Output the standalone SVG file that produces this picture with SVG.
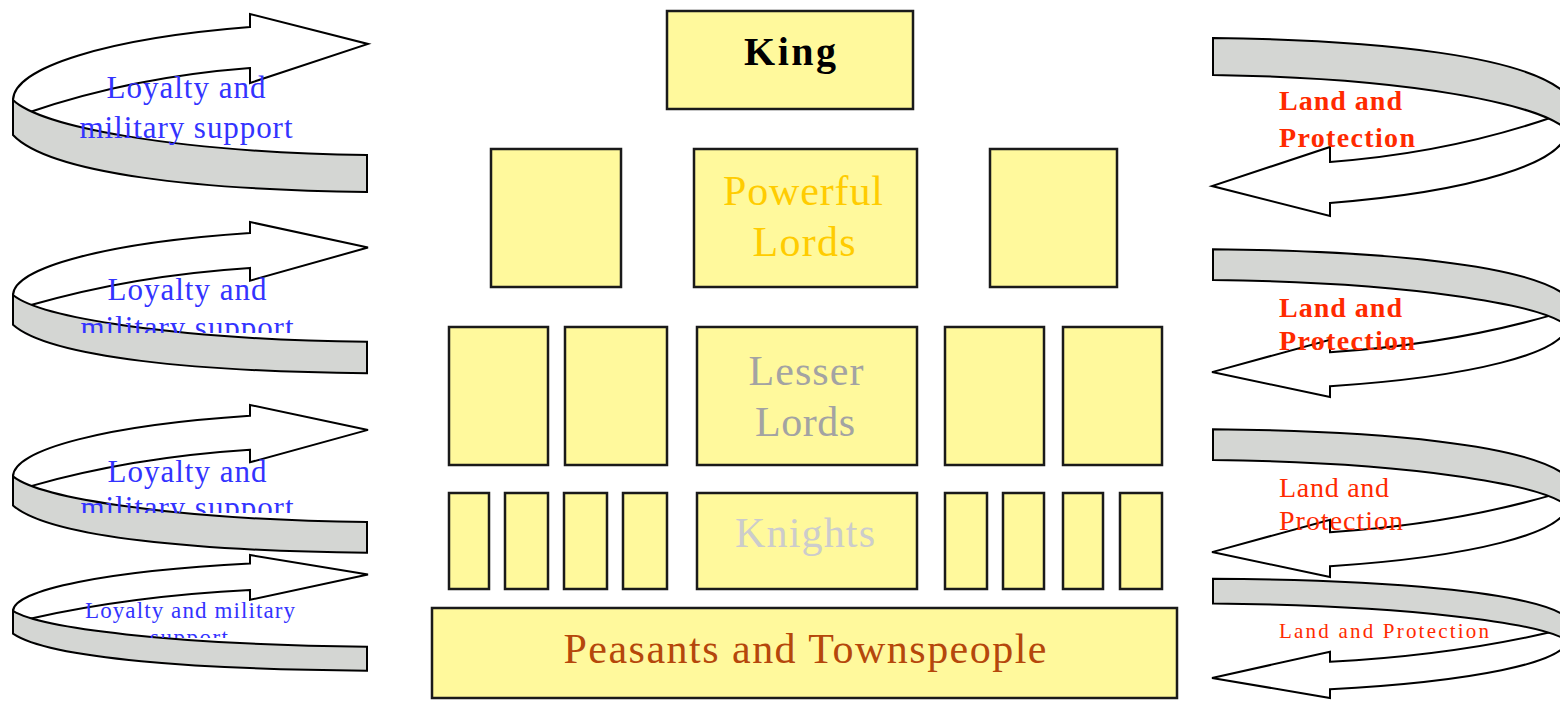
<svg xmlns="http://www.w3.org/2000/svg" xmlns:xlink="http://www.w3.org/1999/xlink" width="1560" height="701" viewBox="0 0 1560 701">
<style>
.box{fill:#FFF99C;stroke:#1a1a1a;stroke-width:2.5}
.aw{fill:#FFFFFF;stroke:#000;stroke-width:2}
.ag{fill:#D4D6D3;stroke:#000;stroke-width:2}
.t{font-family:"Liberation Serif","Times New Roman",serif;text-anchor:middle}
.blue{font-family:"Liberation Serif","Times New Roman",serif;fill:#3333FF;text-anchor:middle}
.red{font-family:"Liberation Serif","Times New Roman",serif;fill:#FF2A00}
</style>
<defs>
<path id="lw" class="aw" vector-effect="non-scaling-stroke" d="M250,13 A360,78 0 0 0 13,86 L13,100 L30,98 Q132,63 250,54 L250,69 L368,30 L250,0 Z"/>
<path id="lg" class="ag" vector-effect="non-scaling-stroke" d="M13,86 C40,112 170,138 367,141 L367,178 C200,176 50,160 13,121 Z"/>
<clipPath id="c2"><rect x="0" y="200" width="400" height="133"/></clipPath>
<clipPath id="c3"><rect x="0" y="390" width="400" height="123"/></clipPath>
<clipPath id="c4"><rect x="0" y="560" width="400" height="78"/></clipPath>
</defs>

<g id="connectors">
<g id="left-arrow-1" transform="translate(0,14)"><use xlink:href="#lw"/><use xlink:href="#lg"/></g>
<g id="left-arrow-2" transform="translate(0,222) scale(1,0.85)"><use xlink:href="#lw"/><use xlink:href="#lg"/></g>
<g id="left-arrow-3" transform="translate(0,405) scale(1,0.83)"><use xlink:href="#lw"/><use xlink:href="#lg"/></g>
<g id="left-arrow-4" transform="translate(0,555) scale(1,0.65)"><use xlink:href="#lw"/><use xlink:href="#lg"/></g>
<g id="right-arrow-1" transform="translate(1580,216) scale(-1,-1)"><use xlink:href="#lw"/><use xlink:href="#lg"/></g>
<g id="right-arrow-2" transform="translate(1580,397) scale(-1,-0.83)"><use xlink:href="#lw"/><use xlink:href="#lg"/></g>
<g id="right-arrow-3" transform="translate(1580,577) scale(-1,-0.83)"><use xlink:href="#lw"/><use xlink:href="#lg"/></g>
<g id="right-arrow-4" transform="translate(1580,698) scale(-1,-0.67)"><use xlink:href="#lw"/><use xlink:href="#lg"/></g>
</g>

<g id="left-labels">
<text class="blue" x="186" y="98" font-size="31" textLength="159" lengthAdjust="spacing">Loyalty and</text>
<text class="blue" x="186" y="138" font-size="31" textLength="213" lengthAdjust="spacing">military support</text>
<text class="blue" x="187" y="300" font-size="31" textLength="159" lengthAdjust="spacing">Loyalty and</text>
<text class="blue" x="187" y="338" font-size="31" textLength="213" lengthAdjust="spacing" clip-path="url(#c2)">military support</text>
<text class="blue" x="187" y="482" font-size="31" textLength="159" lengthAdjust="spacing">Loyalty and</text>
<text class="blue" x="187" y="518" font-size="31" textLength="213" lengthAdjust="spacing" clip-path="url(#c3)">military support</text>
<text class="blue" x="190" y="618" font-size="23" textLength="210" lengthAdjust="spacing">Loyalty and military</text>
<text class="blue" x="189" y="645" font-size="23" textLength="78" lengthAdjust="spacing" clip-path="url(#c4)">support</text>
</g>

<g id="right-labels">
<text class="red" x="1279" y="110" font-size="28" font-weight="bold" textLength="123" lengthAdjust="spacing">Land and</text>
<text class="red" x="1279" y="147" font-size="28" font-weight="bold" textLength="136" lengthAdjust="spacing">Protection</text>
<text class="red" x="1279" y="317" font-size="28" font-weight="bold" textLength="123" lengthAdjust="spacing">Land and</text>
<text class="red" x="1279" y="350" font-size="28" font-weight="bold" textLength="136" lengthAdjust="spacing">Protection</text>
<text class="red" x="1279" y="497" font-size="28" textLength="110" lengthAdjust="spacing">Land and</text>
<text class="red" x="1279" y="530" font-size="28" textLength="124" lengthAdjust="spacing">Protection</text>
<text class="red" x="1279" y="638" font-size="21" textLength="210" lengthAdjust="spacing">Land and Protection</text>
</g>

<g id="king">
<rect class="box" x="667" y="11" width="246" height="98"/>
<text class="t" x="790" y="65" font-size="40" font-weight="bold" fill="#000" textLength="92" lengthAdjust="spacing">King</text>
</g>

<g id="powerful-lords">
<rect class="box" x="491" y="149" width="130" height="138"/>
<rect class="box" x="694" y="149" width="223" height="138"/>
<rect class="box" x="990" y="149" width="127" height="138"/>
<text class="t" x="803" y="205" font-size="42" fill="#FFCC00" textLength="160" lengthAdjust="spacing">Powerful</text>
<text class="t" x="804" y="256" font-size="42" fill="#FFCC00" textLength="103" lengthAdjust="spacing">Lords</text>
</g>

<g id="lesser-lords">
<rect class="box" x="449" y="327" width="99" height="138"/>
<rect class="box" x="565" y="327" width="102" height="138"/>
<rect class="box" x="697" y="327" width="220" height="138"/>
<rect class="box" x="945" y="327" width="99" height="138"/>
<rect class="box" x="1063" y="327" width="99" height="138"/>
<text class="t" x="806" y="385" font-size="42" fill="#A3A3A3" textLength="115" lengthAdjust="spacing">Lesser</text>
<text class="t" x="805" y="436" font-size="42" fill="#A3A3A3" textLength="100" lengthAdjust="spacing">Lords</text>
</g>

<g id="knights">
<rect class="box" x="449" y="493" width="40" height="96"/>
<rect class="box" x="505" y="493" width="43" height="96"/>
<rect class="box" x="564" y="493" width="43" height="96"/>
<rect class="box" x="623" y="493" width="44" height="96"/>
<rect class="box" x="697" y="493" width="220" height="96"/>
<rect class="box" x="945" y="493" width="42" height="96"/>
<rect class="box" x="1003" y="493" width="41" height="96"/>
<rect class="box" x="1063" y="493" width="40" height="96"/>
<rect class="box" x="1120" y="493" width="42" height="96"/>
<text class="t" x="805" y="547" font-size="42" fill="#CCCCCC" textLength="140" lengthAdjust="spacing">Knights</text>
</g>

<g id="peasants">
<rect class="box" x="432" y="608" width="745" height="90"/>
<text class="t" x="805" y="663" font-size="42" fill="#B5470B" textLength="483" lengthAdjust="spacing">Peasants and Townspeople</text>
</g>
</svg>
